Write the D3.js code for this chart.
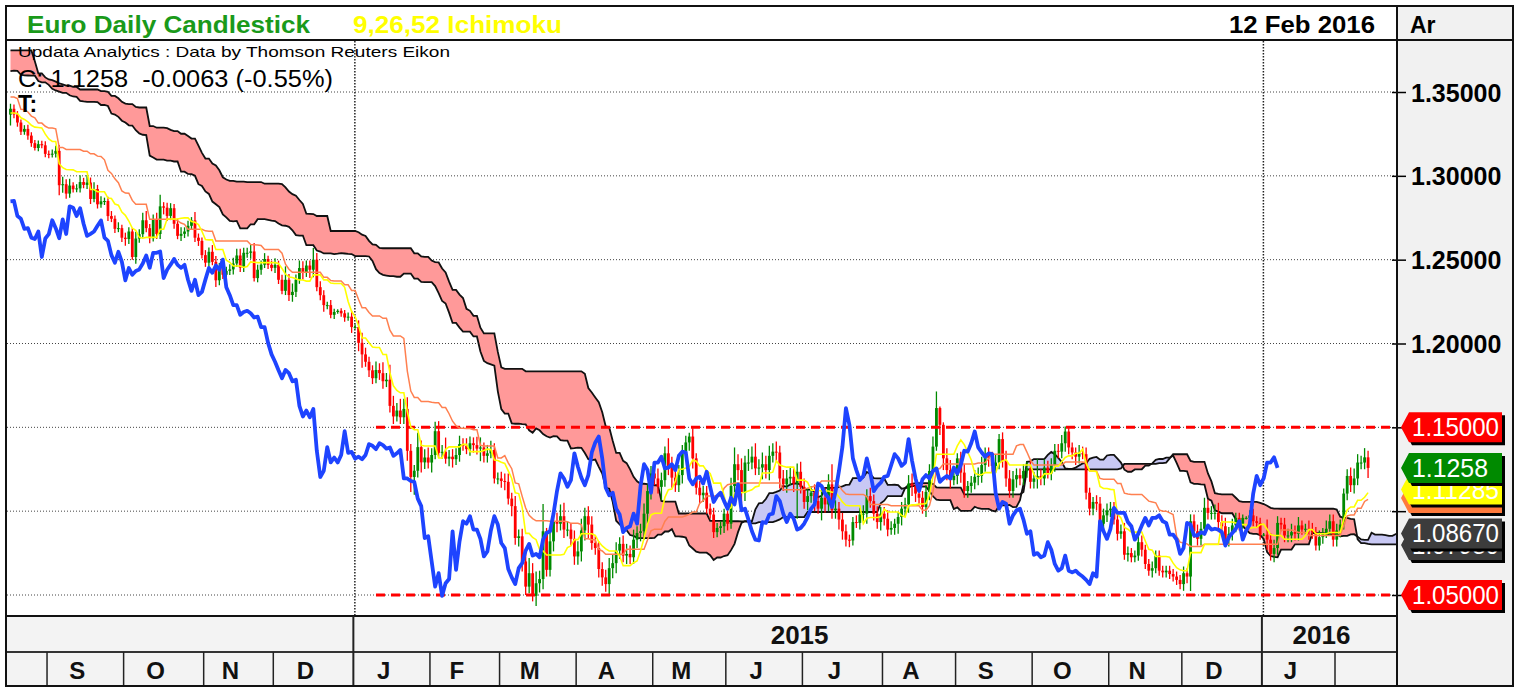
<!DOCTYPE html>
<html>
<head>
<meta charset="utf-8">
<script src="https://cdn.jsdelivr.net/npm/d3@7"></script>
<style>
  html, body { margin: 0; padding: 0; background: #fff; }
  svg { display: block; font-family: "Liberation Sans", Arial, sans-serif; }
</style>
</head>
<body>
<svg id="chart" width="1520" height="688"></svg>
<script>
/* --------------------------------------------------------- */
/* DATA : EUR/USD daily, one value per weekday from 30 Apr 2014 */
/* prices are pips above 1.0000 (3366 = 1.3366)               */
/* --------------------------------------------------------- */
const closes = [
  3870,                                                                                                   // Apr 30 2014
  3870,3870,3875,3925,3910,3835,3760,3757,3705,3710,3710,3695,3712,3705,3685,3660,3630,3645,3630,3595,3590,3635, // May
  3595,3630,3600,3660,3640,3590,3545,3535,3545,3545,3570,3565,3595,3610,3605,3605,3610,3630,3620,3645,3690,      // Jun
  3680,3655,3605,3595,3610,3615,3640,3610,3605,3615,3530,3525,3525,3525,3520,3465,3465,3460,3430,3440,3410,3395,3390, // Jul
  3430,3415,3380,3370,3360,3410,3375,3365,3360,3365,3400,3366,3318,3263,3280,3240,3195,3166,3189,3182,3131, // Aug
  3130,3132,3149,2944,2950,2894,2942,2920,2925,2963,2946,2960,2862,2921,2830,2848,2850,2760,2744,2684,2688,2631, // Sep
  2623,2668,2516,2626,2652,2735,2688,2628,2740,2653,2818,2810,2761,2807,2714,2642,2654,2668,2702,2734,2631,2612,2527, // Oct
  2482,2547,2487,2377,2450,2410,2433,2442,2477,2525,2452,2541,2541,2549,2390,2440,2470,2504,2469,2451,      // Nov
  2469,2380,2314,2380,2289,2308,2381,2450,2422,2465,2440,2500,2336,2288,2229,2229,2171,2188,2195,2180,2155,2160,2098, // Dec
  2098,2004,1935,1891,1840,1793,1842,1823,1775,1784,1628,1565,1600,1560,1610,1360,1204,1241,1382,1291,1320,1290, // Jan 2015
  1335,1477,1348,1354,1313,1325,1310,1335,1400,1390,1370,1405,1394,1373,1380,1330,1345,1365,1195,1195,      // Feb
  1180,1175,1075,1030,840,850,700,550,630,495,570,595,880,650,820,940,925,970,890,890,835,730,              // Mar
  760,885,970,920,810,780,655,605,565,660,690,765,805,735,745,725,830,870,880,985,1120,1225,                // Apr
  1195,1145,1185,1345,1265,1200,1155,1215,1350,1410,1445,1315,1140,1095,1110,1015,980,875,900,910,985,      // May
  925,1150,1280,1245,1110,1290,1290,1325,1255,1260,1280,1245,1330,1355,1350,1195,1160,1195,1205,1165,1235,1145, // Jun
  1055,1090,1110,1060,1015,1080,1040,1160,1005,1015,950,880,830,825,935,930,980,985,1090,1060,985,935,985,  // Jul
  955,890,900,925,965,1015,1040,1165,1150,1105,1080,1025,1115,1240,1385,1615,1515,1315,1245,1185,1210,      // Aug
  1315,1230,1120,1150,1170,1205,1210,1275,1340,1315,1270,1290,1430,1300,1195,1120,1190,1215,1195,1240,1255,1175, // Sep
  1195,1210,1195,1260,1225,1275,1360,1355,1405,1475,1380,1350,1325,1345,1340,1110,1015,1055,1045,925,975,1005, // Oct
  1015,950,865,880,740,750,725,735,815,770,685,645,660,735,645,635,645,625,610,590,565,                     // Nov
  630,610,940,880,835,895,1020,990,990,990,935,910,830,865,915,960,915,960,960,975,940,930,860,             // Dec
  860,830,745,780,930,920,855,855,875,865,915,890,895,890,875,795,845,870,895,940,830,                      // Jan 2016
  885,920,1105,1210,1155,1195,1290,1290,1321,1258                                                           // Feb
];
// pips from the body top to the high
const upWick = [
  20,
  25,15,30,40,35,83,30,20,25,15,20,18,22,15,20,18,25,12,15,20,18,25,
  20,25,30,35,20,25,18,15,20,22,18,20,25,15,20,18,22,15,20,25,15,
  20,25,30,20,15,18,25,30,20,25,15,20,18,22,15,20,15,18,20,15,25,18,20,
  25,20,18,22,15,40,20,18,15,20,30,25,20,18,22,25,20,18,22,20,25,
  20,25,30,35,45,30,40,20,25,40,25,45,30,40,25,30,20,25,30,20,35,20,
  30,25,20,40,30,45,55,25,30,40,69,25,30,30,25,30,40,25,30,20,50,25,20,
  30,25,40,35,30,25,25,30,35,40,40,30,30,40,51,30,25,35,20,25,
  40,25,30,80,35,50,30,45,40,30,30,70,40,35,30,20,30,20,10,15,20,25,35,
  15,40,60,40,30,30,50,40,65,40,90,60,45,70,60,70,40,35,85,40,50,60,
  40,57,60,40,85,40,45,40,50,35,45,40,35,50,60,30,50,55,40,35,
  40,45,50,35,60,40,45,50,90,60,70,50,163,20,70,45,50,70,80,50,40,50,
  60,70,50,60,50,40,40,40,45,60,50,50,40,50,60,50,60,40,45,60,40,45,
  65,60,45,40,90,60,40,60,45,40,22,50,30,40,40,40,30,40,30,30,30,
  40,50,100,60,70,40,80,60,80,50,70,50,60,50,60,40,50,50,60,50,50,60,
  50,45,40,50,70,60,60,60,120,50,40,40,40,30,30,40,40,50,40,50,40,45,40,
  40,50,40,30,30,40,40,50,60,30,40,40,40,40,60,99,10,15,60,60,50,
  30,40,50,30,40,40,50,50,40,40,40,50,30,40,60,50,50,40,40,40,40,50,
  40,100,40,50,40,40,40,40,50,30,20,30,30,50,40,40,30,30,40,40,40,40,
  40,40,40,40,50,40,30,30,40,40,30,30,40,30,30,30,30,30,30,30,30,
  40,30,41,40,40,40,60,50,40,50,60,40,50,40,40,30,30,20,10,30,40,30,30,
  10,90,40,50,40,30,40,40,50,40,50,30,30,50,40,30,40,30,50,40,40,
  40,30,30,40,50,60,50,40,55,40
];
// pips from the body bottom to the low
const downWick = [
  20,
  20,25,15,20,30,25,20,25,20,15,22,18,20,25,15,20,18,25,20,15,22,18,
  20,25,18,97,25,20,18,22,15,20,18,15,20,22,15,18,20,25,15,20,18,
  25,20,18,15,20,22,18,15,25,20,22,15,18,20,15,25,20,18,15,22,20,18,25,
  20,25,30,20,40,25,18,20,22,15,65,22,25,20,18,25,22,15,20,18,20,
  25,20,22,60,45,30,25,20,18,25,20,25,30,20,25,20,22,30,20,25,20,25,
  40,30,16,40,25,20,25,30,20,30,29,40,30,25,30,20,30,25,30,20,25,30,20,
  25,30,20,40,30,25,20,25,30,20,25,25,30,35,20,25,30,20,25,20,
  30,25,20,25,35,40,30,25,40,25,50,45,25,30,40,25,20,25,10,20,25,20,35,
  10,50,80,30,40,35,30,40,45,35,40,45,30,40,40,60,89,106,40,60,40,35,
  60,25,30,35,30,45,50,35,40,30,30,40,45,35,75,40,40,30,30,35,
  40,50,35,60,40,50,60,50,40,33,60,55,60,40,40,60,50,40,50,40,40,50,
  50,60,60,80,40,40,50,50,45,70,60,60,50,40,50,40,40,50,50,50,60,50,
  40,40,80,40,50,60,40,40,50,40,50,60,40,50,40,30,25,35,30,40,40,
  40,30,40,60,60,50,50,40,40,40,70,50,60,40,50,60,40,50,40,50,210,40,
  40,50,40,60,30,70,50,40,50,50,60,50,40,40,30,30,40,40,60,40,40,40,50,
  40,40,30,40,60,50,50,50,60,50,40,40,60,50,20,25,60,70,60,50,30,
  50,60,40,40,40,40,50,40,40,50,40,40,40,40,50,40,40,50,40,40,40,40,
  40,60,40,40,30,40,40,40,40,50,40,40,50,40,30,40,40,40,40,40,50,40,
  40,30,40,30,30,40,30,30,30,40,30,30,40,30,30,30,30,30,30,30,30,
  40,40,86,40,40,40,40,40,40,40,60,40,40,40,40,40,30,20,10,30,30,30,30,
  10,60,40,50,40,40,40,40,40,40,40,30,30,60,40,30,30,40,30,40,40,
  40,40,30,40,40,50,40,40,40,60
];

const firstDay = new Date(2014, 3, 30);
const lastDay = new Date(2016, 1, 12);
const firstShownDay = new Date(2014, 7, 15);

const priceTicks = [1.05, 1.10, 1.15, 1.20, 1.25, 1.30, 1.35];
const levels = [1.15, 1.05];
const levelStartDay = new Date(2015, 0, 9);

// right-hand price tags, drawn bottom layer first
const tagValues = [1.0798, 1.1078, 1.11285, 1.1258, 1.0867, 1.15, 1.05];
const tagLabels = ["1.07980", "1.10780", "1.11285", "1.1258", "1.08670", "1.15000", "1.05000"];
const tagFills  = ["#3c3c3c", "#ff7a3c", "#ffff00", "#008a00", "#3c3c3c", "#ff0000", "#ff0000"];
const tagInk    = ["#fff", "#000", "#fff", "#fff", "#fff", "#fff", "#fff"];

const monthLetters = ["J", "F", "M", "A", "M", "J", "J", "A", "S", "O", "N", "D"];

/* --------------------------------------------------------- */
/* DRAW CHART                                                */
/* --------------------------------------------------------- */
const svg = d3.select("#chart");
const plot = { l: 7, r: 1397, t: 41, b: 616 };
const barW = 3.481;

const dates = d3.timeDay.range(firstDay, d3.timeDay.offset(lastDay, 1))
    .filter(d => d.getDay() % 6 !== 0);
if (dates.length !== closes.length || upWick.length !== closes.length || downWick.length !== closes.length) {
    throw new Error("length mismatch " + [dates.length, closes.length, upWick.length, downWick.length].join(","));
}
const N = closes.length;
const first = dates.findIndex(d => +d === +firstShownDay);

const bars = closes.map((c, i) => {
    const close = 1 + c / 10000;
    const open = i ? 1 + closes[i - 1] / 10000 : close;
    return {
        i, date: dates[i], open, close,
        high: Math.max(open, close) + upWick[i] / 10000,
        low: Math.min(open, close) - downWick[i] / 10000
    };
});

// 9,26,52 ichimoku
function midRange(end, n) {
    const s = bars.slice(Math.max(0, end - n + 1), end + 1);
    return (d3.max(s, d => d.high) + d3.min(s, d => d.low)) / 2;
}
const tenkan = bars.map(d => midRange(d.i, 9));
const kijun = bars.map(d => midRange(d.i, 26));
const span52 = bars.map(d => midRange(d.i, 52));
const cloud = d3.range(first, N + 26).map(j => ({
    i: j, a: (tenkan[j - 26] + kijun[j - 26]) / 2, b: span52[j - 26]
}));

const x = d3.scaleLinear()
    .domain([first - 1, first - 1 + (plot.r - plot.l) / barW])
    .range([plot.l, plot.r]);
const y = d3.scaleLinear().domain([1.05, 1.35]).range([595, 92]);

// backgrounds
svg.append("rect").attr("width", 1520).attr("height", 688).attr("fill", "#fff");
svg.append("rect").attr("x", plot.r).attr("y", 7).attr("width", 1512 - plot.r).attr("height", 678).attr("fill", "#f1f1f1");
svg.append("rect").attr("x", plot.l).attr("y", plot.b).attr("width", plot.r - plot.l).attr("height", 685 - plot.b).attr("fill", "#f3f3f3");

svg.append("clipPath").attr("id", "clip").append("rect")
    .attr("x", plot.l).attr("y", plot.t).attr("width", plot.r - plot.l).attr("height", plot.b - plot.t);
const g = svg.append("g").attr("clip-path", "url(#clip)");

// month / year boundaries
const starts = d3.range(first + 1, N).filter(i => dates[i].getMonth() !== dates[i - 1].getMonth());
const edge = i => x(i) - barW / 2;
const yearStarts = starts.filter(i => dates[i].getMonth() === 0);

// grid
g.selectAll(".hgrid").data(priceTicks).enter().append("line")
    .attr("x1", plot.l).attr("x2", plot.r)
    .attr("y1", d => y(d)).attr("y2", d => y(d))
    .attr("stroke", "#444").attr("stroke-width", 1).attr("stroke-dasharray", "1,2");
g.selectAll(".vgrid").data(yearStarts).enter().append("line")
    .attr("x1", d => edge(d) + 1.5).attr("x2", d => edge(d) + 1.5)
    .attr("y1", plot.t).attr("y2", plot.b)
    .attr("stroke", "#222").attr("stroke-width", 1.5).attr("stroke-dasharray", "1.5,1.5");

// cloud
const pink = d3.area().x(d => x(d.i)).y0(d => y(d.a)).y1(d => y(Math.max(d.a, d.b)));
const lav = d3.area().x(d => x(d.i)).y0(d => y(d.b)).y1(d => y(Math.max(d.a, d.b)));
g.append("path").attr("d", pink(cloud)).attr("fill", "#ff9999");
g.append("path").attr("d", lav(cloud)).attr("fill", "#c8c8f4");
["a", "b"].forEach(k => {
    g.append("path")
        .attr("d", d3.line().x(d => x(d.i)).y(d => y(d[k]))(cloud))
        .attr("fill", "none").attr("stroke", "#111").attr("stroke-width", 1.8);
});

// candles
const shown = bars.slice(first);
const candle = g.append("g").selectAll("g").data(shown).enter().append("g")
    .attr("fill", d => d.close >= d.open ? "#008a00" : "#ff0000")
    .attr("stroke", d => d.close >= d.open ? "#008a00" : "#ff0000");
candle.append("line")
    .attr("x1", d => x(d.i)).attr("x2", d => x(d.i))
    .attr("y1", d => y(d.high)).attr("y2", d => y(d.low))
    .attr("stroke-width", 1.3);
candle.append("rect")
    .attr("x", d => x(d.i) - 1.4).attr("width", 2.8)
    .attr("y", d => y(Math.max(d.open, d.close)))
    .attr("height", d => Math.max(1, Math.abs(y(d.open) - y(d.close))))
    .attr("stroke", "none");

// red levels
g.selectAll(".level").data(levels).enter().append("line")
    .attr("x1", x(dates.findIndex(d => +d === +levelStartDay))).attr("x2", plot.r)
    .attr("y1", d => y(d)).attr("y2", d => y(d))
    .attr("stroke", "#ff0000").attr("stroke-width", 3).attr("stroke-dasharray", "9,6");

// tenkan / kijun / chikou
const lineOf = (arr) => d3.line().x(i => x(i)).y(i => y(arr[i]));
const idx = d3.range(first, N);
g.append("path").attr("d", lineOf(kijun)(idx)).attr("fill", "none").attr("stroke", "#ff8050").attr("stroke-width", 1.5);
g.append("path").attr("d", lineOf(tenkan)(idx)).attr("fill", "none").attr("stroke", "#ffff00").attr("stroke-width", 1.6);
const chikou = d3.range(first, N - 26).map(j => [x(j), y(bars[j + 26].close)]);
g.append("path").attr("d", d3.line()(chikou)).attr("fill", "none")
    .attr("stroke", "#1e44ff").attr("stroke-width", 3.8).attr("stroke-linejoin", "round");

// right axis (labels hidden under a price tag are left out)
const minor = d3.range(1038, 1381, 5).map(v => v / 10000);
svg.append("g").attr("transform", `translate(${plot.r - 5},0)`)
    .call(d3.axisRight(y).tickValues(minor).tickSize(5).tickFormat(""))
    .call(a => a.select(".domain").remove())
    .selectAll("line").attr("stroke", "#000").attr("stroke-width", 1.2);
const freeTicks = priceTicks.filter(p => tagValues.every(t => Math.abs(y(t) - y(p)) > 18));
const ax = svg.append("g").attr("transform", `translate(${plot.r - 5},0)`)
    .call(d3.axisRight(y).tickValues(priceTicks).tickSize(14).tickPadding(5)
        .tickFormat(p => freeTicks.includes(p) ? d3.format(".5f")(p) : ""));
ax.select(".domain").remove();
ax.selectAll("line").attr("stroke", "#000").attr("stroke-width", 1.5);
ax.selectAll("text").attr("font-size", 25).attr("font-weight", "bold").attr("fill", "#000")
    .attr("font-family", "'Liberation Sans', Arial, sans-serif").attr("dy", "0.36em");

// frame lines
const frame = svg.append("g").attr("stroke", "#111").attr("stroke-width", 2);
frame.append("line").attr("x1", 6).attr("x2", 1513).attr("y1", 40).attr("y2", 40);
frame.append("line").attr("x1", 6).attr("x2", plot.r).attr("y1", plot.b).attr("y2", plot.b);
frame.append("line").attr("x1", 6).attr("x2", plot.r).attr("y1", 652).attr("y2", 652).attr("stroke", "#333");
frame.append("line").attr("x1", plot.r).attr("x2", plot.r).attr("y1", 6).attr("y2", 686);
frame.append("rect").attr("x", 6).attr("y", 6).attr("width", 1507).attr("height", 680).attr("fill", "none");

// month row
const months = svg.append("g");
months.selectAll("line").data(starts).enter().append("line")
    .attr("x1", d => edge(d)).attr("x2", d => edge(d))
    .attr("y1", d => dates[d].getMonth() === 0 ? plot.b : 652).attr("y2", 685)
    .attr("stroke", "#222").attr("stroke-width", d => dates[d].getMonth() === 0 ? 2 : 1.5);
const cells = d3.pairs(starts);
months.selectAll("text").data(cells).enter().append("text")
    .attr("x", d => (edge(d[0]) + edge(d[1])) / 2 - 8).attr("y", 679)
    .attr("text-anchor", "middle").attr("font-size", 24).attr("font-weight", "bold").attr("fill", "#111")
    .text(d => monthLetters[dates[d[0]].getMonth()]);
const yearCells = yearStarts.map((s, k) => [edge(s), k + 1 < yearStarts.length ? edge(yearStarts[k + 1]) : plot.r, dates[s].getFullYear()]);
months.selectAll(".yr").data(yearCells).enter().append("text")
    .attr("x", d => (d[0] + d[1]) / 2 - 8).attr("y", 644)
    .attr("text-anchor", "middle").attr("font-size", 26).attr("font-weight", "bold").attr("fill", "#111")
    .text(d => d[2]);

// price tags
const tags = svg.append("g").selectAll("g").data(tagValues).enter().append("g")
    .attr("transform", d => `translate(0,${y(d)})`);
const tagShape = "M1401,0L1409,-15L1502,-15L1502,15L1409,15Z";
tags.append("path").attr("d", tagShape).attr("transform", "translate(3,3)").attr("fill", "#000");
tags.append("path").attr("d", tagShape).attr("fill", (d, k) => tagFills[k]);
tags.append("text").attr("x", 1412).attr("y", 9)
    .attr("font-size", 25).attr("fill", (d, k) => tagInk[k])
    .attr("textLength", (d, k) => tagLabels[k].length === 7 ? 87 : 76).attr("lengthAdjust", "spacingAndGlyphs")
    .text((d, k) => tagLabels[k]);

// header and notes
function label(txt, px, py, size, opts = {}) {
    const t = svg.append("text").attr("x", px).attr("y", py).attr("font-size", size)
        .attr("fill", opts.fill || "#000").attr("font-weight", opts.bold ? "bold" : "normal")
        .style("white-space", "pre").text(txt);
    if (opts.len) t.attr("textLength", opts.len).attr("lengthAdjust", "spacingAndGlyphs");
    if (opts.anchor) t.attr("text-anchor", opts.anchor);
    return t;
}
label("Euro Daily Candlestick", 27, 33, 23, { bold: true, fill: "#1a9a1a", len: 283 });
label("9,26,52 Ichimoku", 353, 33, 23, { bold: true, fill: "#ffff00", len: 209 });
label("12 Feb 2016", 1375, 33, 23, { bold: true, anchor: "end", len: 146 });
label("Ar", 1410, 33, 23, { bold: true });
label("Updata Analytics : Data by Thomson Reuters Eikon", 18, 57, 15, { len: 432 });
label("C: 1.1258  -0.0063 (-0.55%)", 18, 87, 23, { len: 315 });
label("T:", 18, 112, 23, { bold: true });
</script>
</body>
</html>
